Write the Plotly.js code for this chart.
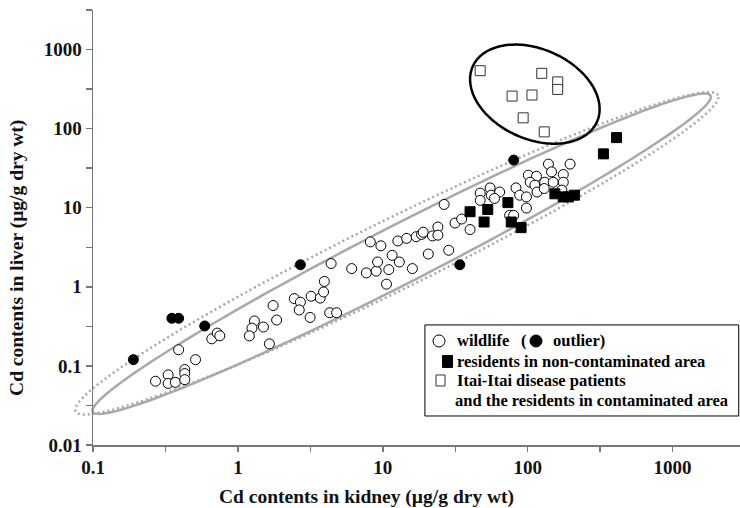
<!DOCTYPE html>
<html>
<head>
<meta charset="utf-8">
<script src="https://cdn.plot.ly/plotly-3.0.1.min.js"></script>
<style>html,body{margin:0;padding:0;background:#fff;}#chart{width:740px;height:508px;}</style>
</head>
<body>
<div id="chart"></div>
<script>
// ---- data ----
const wildlifeKidney = [0.27,0.33,0.33,0.37,0.43,0.43,0.43,0.39,0.51,0.66,0.72,0.75,1.3,1.25,1.2,1.5,1.85,1.75,1.65,
  2.45,2.7,2.65,3.15,3.2,3.7,3.9,3.95,4.3,4.8,4.4,6.1,7.7,9.0,9.2,8.2,9.7,10.6,11,11.6,13,12.7,14.6,16,17,18.5,19,
  20.6,22,24,24,26.5,28.5,31.5,35,40,47,47,55,56,64,59,83,88,98,98,101,115,104,112,116,131,139,146,150,130,176,176,172,196,75,80];
const wildlifeLiver = [0.064,0.077,0.060,0.062,0.090,0.080,0.067,0.16,0.12,0.22,0.26,0.24,0.37,0.30,0.24,0.31,0.38,0.58,0.19,
  0.71,0.64,0.51,0.41,0.76,0.72,0.86,1.17,0.47,0.47,1.97,1.7,1.5,1.58,2.06,3.7,3.3,1.08,1.65,2.5,2.06,3.8,4.1,1.7,4.3,4.6,4.9,
  2.6,4.4,5.7,4.5,11,2.9,6.4,7.2,5.3,15.3,12.4,17.8,14.4,15.8,13.1,17.8,14.4,13.7,9.9,25.8,25,21,19.3,15.8,21,35.6,28.4,21,17.5,26.3,21,16.7,35.6,8.0,8.0];
const outlierKidney = [0.19,0.35,0.39,0.59,2.7,34,80];
const outlierLiver  = [0.12,0.40,0.40,0.32,1.9,1.9,40];
const residentKidney = [40,53,50,73,77,90,154,176,191,210,333,410];
const residentLiver  = [8.9,9.5,6.6,11.6,6.6,5.6,15,13.7,13.7,14.4,48,77];
const itaiKidney = [47,125,161,161,78,107,93,130];
const itaiLiver  = [540,500,390,313,258,266,137,91];

const xTickVals = [0.1,0.3162,1,3.162,10,31.62,100,316.2,1000];
const xTickText = ['0.1','','1','','10','','100','','1000'];
const yTickVals = [0.01,0.03162,0.1,0.3162,1,3.162,10,31.62,100,316.2,1000,3162];
const yTickText = ['0.01','','0.1','','1','','10','','100','','1000',''];

const xTitle = 'Cd contents in kidney (µg/g dry wt)';
const yTitle = 'Cd contents in liver (µg/g dry wt)';
const legendLabels = ['wildlife','(','outlier)','residents in non-contaminated area','Itai-Itai disease patients','and the residents in contaminated area'];

// ---- layout geometry ----
const W = 740, H = 508;
const M = {l:93, r:0, t:10, b:63};
const xRange = [-1, 3.465];
const yRange = [-2, 3.5];
const plotW = W - M.l - M.r, plotH = H - M.t - M.b;

// ellipse around a data-space centre (semi-axes in screen px), drawn as a paper-referenced path
// so that it may extend past the axes like in the original figure
function ellipseShape(cx, cy, a, b, angDeg, line) {
  const px0 = (Math.log10(cx) - xRange[0]) / (xRange[1]-xRange[0]);
  const py0 = (Math.log10(cy) - yRange[0]) / (yRange[1]-yRange[0]);
  const th = angDeg*Math.PI/180;
  let d = '';
  for (let k = 0; k < 360; k += 2) {
    const t = k*Math.PI/180, u = a*Math.cos(t), v = b*Math.sin(t);
    const dx = u*Math.cos(th) - v*Math.sin(th);
    const dy = u*Math.sin(th) + v*Math.cos(th);
    d += (k === 0 ? 'M' : 'L') + (px0 + dx/plotW).toFixed(5) + ',' + (py0 + dy/plotH).toFixed(5);
  }
  d += 'Z';
  return {type:'path', xref:'paper', yref:'paper', path:d, line:line, layer:'below'};
}

const serif = 'Liberation Serif, Times New Roman, serif';

const traces = [
  {x: wildlifeKidney, y: wildlifeLiver, type:'scatter', mode:'markers', showlegend:false,
   marker:{symbol:'circle', size:10, color:'#fff', line:{color:'#000', width:1}}},
  {x: outlierKidney, y: outlierLiver, type:'scatter', mode:'markers', showlegend:false,
   marker:{symbol:'circle', size:10, color:'#000', line:{color:'#000', width:1}}},
  {x: residentKidney, y: residentLiver, type:'scatter', mode:'markers', showlegend:false,
   marker:{symbol:'square', size:10, color:'#000', line:{color:'#000', width:1}}},
  {x: itaiKidney, y: itaiLiver, type:'scatter', mode:'markers', showlegend:false,
   marker:{symbol:'square', size:10, color:'#fff', line:{color:'#333', width:1}}}
];

const legFont = {family: serif, size:16.5, color:'#000', weight:'bold'};
function legText(x, y, t) {
  return {xref:'paper', yref:'paper', x:x, y:y, xanchor:'left', yanchor:'middle', text:t, showarrow:false, font:legFont};
}
function legMarker(type, x, y, w, h, fill, lc) {
  return {type:type, xref:'paper', yref:'paper', xsizemode:'pixel', ysizemode:'pixel',
    xanchor:x, yanchor:y, x0:-w/2, x1:w/2, y0:-h/2, y1:h/2, fillcolor:fill, line:{color:lc, width:1}};
}

const titleFont = {family:serif, size:19.5, color:'#111', weight:'bold'};

const layout = {
  width:W, height:H, margin:M, paper_bgcolor:'#fff', plot_bgcolor:'rgba(0,0,0,0)',
  showlegend:false,
  xaxis:{type:'log', range:xRange, showline:true, linecolor:'#777', linewidth:1.5, mirror:false,
    ticks:'outside', ticklen:5, tickcolor:'#777', tickwidth:1.5, showgrid:false, zeroline:false,
    tickvals:xTickVals, ticktext:xTickText,
    tickfont:{family:serif, size:19, color:'#111', weight:'bold'}},
  yaxis:{type:'log', range:yRange, showline:true, linecolor:'#777', linewidth:1.5,
    ticks:'outside', ticklen:6, tickcolor:'#777', tickwidth:1.5, showgrid:false, zeroline:false,
    tickvals:yTickVals, ticktext:yTickText,
    tickfont:{family:serif, size:19, color:'#111', weight:'bold'}},
  shapes:[
    ellipseShape(12.5, 2.65, 358, 35, 26.2, {color:'#a6a6a6', width:2.5, dash:'2px,3px'}),
    ellipseShape(13.5, 2.62, 347, 29, 27.1, {color:'#a9a9a9', width:2.5}),
    ellipseShape(112, 273, 68, 45, -24, {color:'#000', width:2.5}),
    {type:'rect', xref:'paper', yref:'paper', x0:0.513, x1:0.998, y0:0.0667, y1:0.276,
     fillcolor:'#fff', line:{color:'#000', width:1}},
    legMarker('circle', 0.5348, 0.2391, 12, 12, '#fff', '#000'),
    legMarker('circle', 0.6847, 0.2391, 12, 12, '#000', '#000'),
    legMarker('rect', 0.548, 0.192, 10, 12, '#000', '#000'),
    legMarker('rect', 0.5371, 0.1483, 9, 11, '#fff', '#333')
  ],
  annotations:[
    legText(0.5595, 0.2391, legendLabels[0]),
    legText(0.6584, 0.2391, legendLabels[1]),
    legText(0.7079, 0.2391, legendLabels[2]),
    legText(0.5595, 0.192, legendLabels[3]),
    legText(0.5595, 0.1483, legendLabels[4]),
    legText(0.5564, 0.1023, legendLabels[5]),
    {xref:'paper', yref:'paper', x:0.422, y:-0.1195, xanchor:'center', yanchor:'middle',
     text:xTitle, showarrow:false, font:titleFont},
    {xref:'paper', yref:'paper', x:-0.1175, y:0.43, xanchor:'center', yanchor:'middle', textangle:-90,
     text:yTitle, showarrow:false, font:titleFont}
  ]
};

Plotly.newPlot('chart', traces, layout, {staticPlot:true, displayModeBar:false});
</script>
</body>
</html>
